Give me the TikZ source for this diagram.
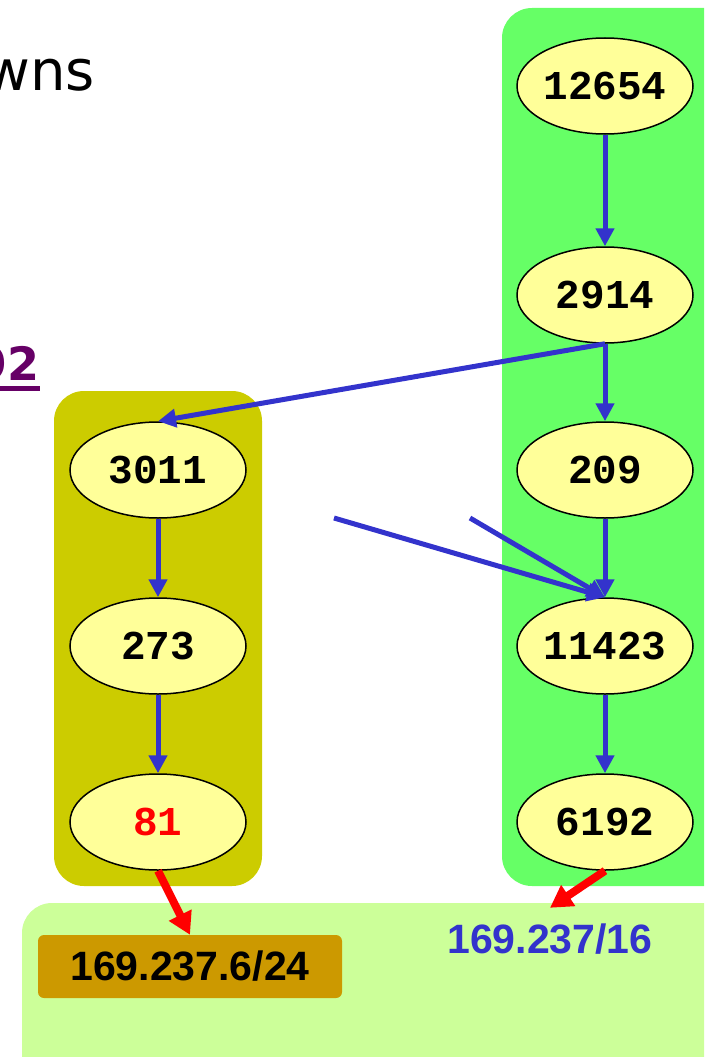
\documentclass[tikz,border=0pt]{standalone}
\usepackage{fontspec}
\setmainfont{Liberation Sans}
\newfontfamily\monob{Liberation Mono}
\newfontfamily\titlefont{DejaVu Sans}
\usetikzlibrary{shapes.geometric,arrows.meta,calc}
\definecolor{boxgreen}{HTML}{66FF66}
\definecolor{boxolive}{HTML}{CCCC00}
\definecolor{boxlight}{HTML}{CCFF99}
\definecolor{boxbrown}{HTML}{CC9900}
\definecolor{nodefill}{HTML}{FFFF99}
\definecolor{arrblue}{HTML}{3333CC}
\definecolor{arrred}{HTML}{FF0000}
\definecolor{titlepurple}{HTML}{660066}
\tikzset{
  asnode/.style={ellipse, draw=black, line width=1.5pt, fill=nodefill,
    minimum width=176pt, minimum height=96pt, inner sep=0pt,
    font=\monob\bfseries\fontsize{41}{46}\selectfont},
  blueedge/.style={draw=arrblue, line width=5pt, -{Triangle[length=18pt,width=18pt]}},
  rededge/.style={draw=arrred, line width=8pt, -{Triangle[length=22pt,width=24pt]}},
  bignum/.style={font=\bfseries\fontsize{41}{48}\selectfont},
}
\begin{document}
\begin{tikzpicture}[x=1pt,y=-1pt]
\useasboundingbox (0,0) rectangle (704,1057);
\clip (0,0) rectangle (704,1057);
% background boxes
\fill[boxgreen, rounded corners=30pt] (502,8) rectangle (740,886);
\fill[boxolive, rounded corners=30pt] (54,391) rectangle (262,886);
\fill[boxlight, rounded corners=30pt] (22,903) rectangle (740,1100);
% title fragments
\node[anchor=base east, inner sep=0pt, font=\titlefont\fontsize{56}{64}\selectfont] (title) at (95,90) {wns};
\node[anchor=base east, inner sep=0pt, text=titlepurple, font=\titlefont\bfseries\fontsize{46}{54}\selectfont] (sub) at (40,380) {92};
\fill[titlepurple] (0,386) rectangle (40,391);
% right column
\node[asnode] (n12654) at (605,86) {12654};
\node[asnode] (n2914) at (605,295) {2914};
\node[asnode] (n209) at (605,470) {209};
\node[asnode] (n11423) at (605,646) {11423};
\node[asnode] (n6192) at (605,822) {6192};
% left column
\node[asnode] (n3011) at (158,470) {3011};
\node[asnode] (n273) at (158,646) {273};
\node[asnode, text=arrred] (n81) at (158,822) {81};
% prefix labels
\node[fill=boxbrown, rounded corners=6pt, minimum width=304pt, minimum height=63pt, bignum] (p24) at (190,966.5) {169.237.6/24};
\node[bignum, text=arrblue, inner sep=2pt, minimum height=62pt] (p16) at (550,939) {169.237/16};
% free ends
\coordinate (f1) at (334,518);
\coordinate (f2) at (470,518);
% edges
\draw[blueedge] (n12654.south) -- (n2914.north);
\draw[blueedge] (n2914.south) -- (n209.north);
\draw[blueedge] (n2914.south) -- (n3011.north);
\draw[blueedge] (n209.south) -- (n11423.north);
\draw[blueedge] (n11423.south) -- (n6192.north);
\draw[blueedge] (f1) -- (n11423.north);
\draw[blueedge] (f2) -- (n11423.north);
\draw[blueedge] (n3011.south) -- (n273.north);
\draw[blueedge] (n273.south) -- (n81.north);
\draw[rededge] (n81.south) -- (p24.north);
\draw[rededge] (n6192.south) -- (p16.north);
\end{tikzpicture}
\end{document}
